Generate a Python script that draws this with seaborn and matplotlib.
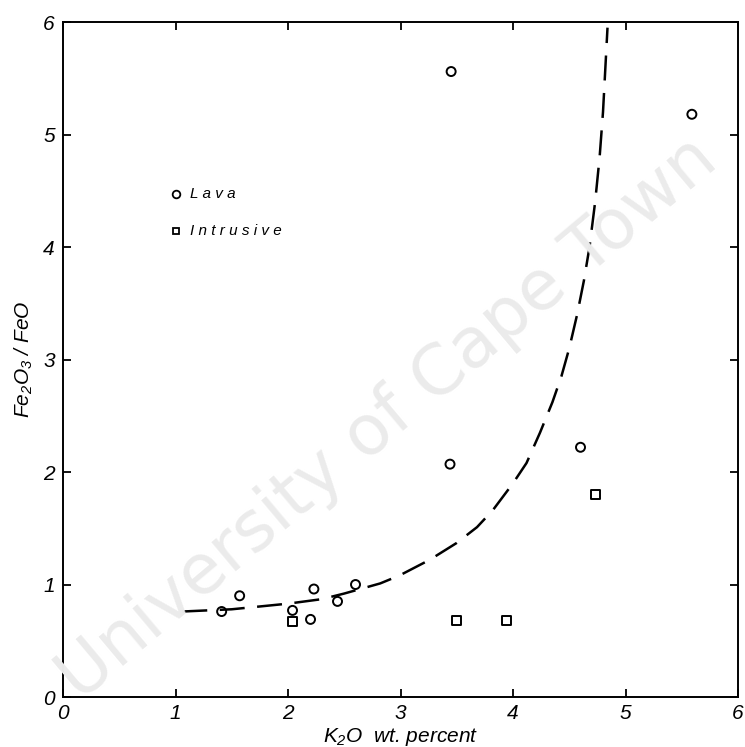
import pandas as pd
import matplotlib.pyplot as plt
import seaborn as sns

# --- data ---
lava_k2o = [3.45, 5.59, 3.44, 4.60, 1.41, 1.57, 2.04, 2.23, 2.20, 2.44, 2.60]
lava_ratio = [5.56, 5.18, 2.07, 2.22, 0.76, 0.90, 0.77, 0.96, 0.69, 0.85, 1.00]

intr_k2o = [2.04, 3.50, 3.94, 4.73]
intr_ratio = [0.67, 0.68, 0.68, 1.80]

# hand-drawn trend curve
curve_k2o = [1.06, 1.50, 2.00, 2.30, 2.50, 2.82, 2.99, 3.26, 3.50, 3.68, 3.82,
             4.00, 4.12, 4.24, 4.35, 4.43, 4.50, 4.57, 4.63, 4.68, 4.73, 4.77,
             4.80, 4.84]
curve_ratio = [0.76, 0.78, 0.83, 0.87, 0.92, 1.01, 1.08, 1.22, 1.37, 1.51, 1.66,
               1.90, 2.08, 2.35, 2.62, 2.85, 3.10, 3.40, 3.70, 4.00, 4.40, 4.80,
               5.20, 5.95]

ticks = [0, 1, 2, 3, 4, 5, 6]

points = pd.DataFrame({
    'K2O': lava_k2o + intr_k2o,
    'ratio': lava_ratio + intr_ratio,
    'type': ['Lava'] * len(lava_k2o) + ['Intrusive'] * len(intr_k2o),
})
curve = pd.DataFrame({'K2O': curve_k2o, 'ratio': curve_ratio})

sns.set_style("ticks")
plt.rcParams['font.family'] = ['Liberation Sans', 'DejaVu Sans']
plt.rcParams['mathtext.fontset'] = 'custom'
plt.rcParams['mathtext.it'] = 'Liberation Sans:italic'
plt.rcParams['mathtext.rm'] = 'Liberation Sans:italic'
plt.rcParams['text.color'] = 'black'
plt.rcParams['axes.labelcolor'] = 'black'

fig = plt.figure(figsize=(7.45, 7.47), dpi=100)
ax = fig.add_axes([0.0846, 0.0669, 0.906, 0.9036])

# watermark
fig.text(0.52, 0.44, 'University of Cape Town', fontsize=50, color='#ebebeb',
         rotation=40, ha='center', va='center', zorder=0, family='DejaVu Sans')

sns.lineplot(data=curve, x='K2O', y='ratio', ax=ax, color='black', lw=1.8,
             sort=False, estimator=None, legend=False)
ax.lines[-1].set_dashes([10, 5])

sns.scatterplot(data=points, x='K2O', y='ratio', style='type', ax=ax,
                markers={'Lava': 'o', 'Intrusive': 's'},
                linewidth=1.4, s=42, legend=False)
# hollow markers
for c in ax.collections:
    c.set_facecolor('none')
    c.set_edgecolor('black')

# legend drawn as markers + labels
ax.plot([1.0], [4.47], marker='o', ms=5.5, mfc='none', mec='black', mew=1.3, ls='none')
ax.plot([1.0], [4.14], marker='s', ms=5, mfc='none', mec='black', mew=1.3, ls='none')
ax.text(1.13, 4.47, 'L a v a', fontsize=11, style='italic', va='center')
ax.text(1.13, 4.14, 'I n t r u s i v e', fontsize=11, style='italic', va='center')

ax.set_xlim(0, 6)
ax.set_ylim(0, 6)
ax.set_xticks(ticks)
ax.set_yticks(ticks)
ax.set_xticklabels([str(t) for t in ticks], fontsize=15, style='italic')
ax.set_yticklabels([str(t) for t in ticks], fontsize=15, style='italic')
ax.tick_params(direction='in', length=6, width=1.3, top=True, right=True,
               pad=6, colors='black')
ax.tick_params(axis='x', pad=5)

for sp in ax.spines.values():
    sp.set_visible(True)
    sp.set_linewidth(1.4)
    sp.set_color('black')

ax.set_xlabel(r'$K_2O$  wt. percent', fontsize=15, style='italic', labelpad=2)
ax.set_ylabel(r'$Fe_2O_3$ / FeO', fontsize=15, style='italic', labelpad=6)

fig.savefig('out.png', dpi=100)
